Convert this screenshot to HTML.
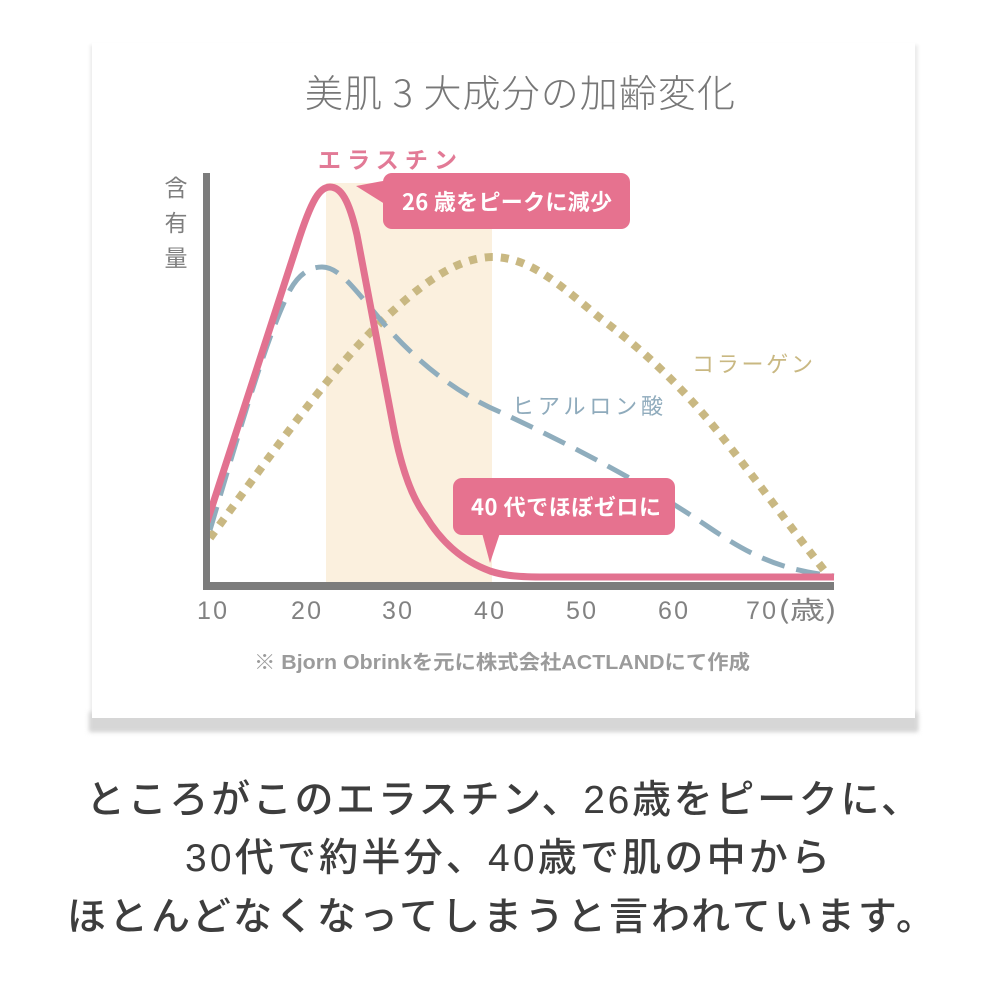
<!DOCTYPE html>
<html><head><meta charset="utf-8">
<style>
html,body{margin:0;padding:0;background:#fff;}
body{width:1000px;height:1000px;overflow:hidden;}
svg{display:block;}
text{font-family:"Liberation Sans","Noto Sans CJK JP",sans-serif;}
.cjk{font-family:"Noto Sans CJK JP","Liberation Sans",sans-serif;}
</style></head>
<body>
<svg width="1000" height="1000" viewBox="0 0 1000 1000" xmlns="http://www.w3.org/2000/svg">
<defs>
<filter id="sh" x="-10%" y="-50%" width="120%" height="200%"><feGaussianBlur stdDeviation="2.5"/></filter>
<filter id="sh2" x="-10%" y="-10%" width="120%" height="120%"><feGaussianBlur stdDeviation="1.5"/></filter>
</defs>
<rect width="1000" height="1000" fill="#fff"/>
<!-- card shadow -->
<rect x="90" y="45" width="828" height="686" fill="#ececec" filter="url(#sh2)"/>
<rect x="89" y="712" width="829" height="20" fill="#d6d6d6" filter="url(#sh)"/>
<rect x="92" y="43" width="823" height="675" fill="#fff"/>

<!-- title -->
<text class="cjk" x="305" y="107" font-size="38" font-weight="300" fill="#777777" textLength="430" lengthAdjust="spacing">美肌 3 大成分の加齢変化</text>

<!-- band -->
<rect x="326" y="183" width="166" height="400" fill="#fbf0de"/>

<!-- collagen dotted -->
<path d="M210,538 C260,470 330,370 380,323 C420,285 455,258 492,257 C530,257 560,285 600,318 C650,355 690,395 730,447 C770,498 800,540 828,575" fill="none" stroke="#c9b882" stroke-width="8" stroke-dasharray="8 8"/>
<!-- hyaluronic dashed -->
<path d="M210,530 C240,430 265,340 290,290 C300,272 312,267 322,267 C340,267 355,290 385,325 C420,365 460,395 500,412 C560,440 640,480 710,528 C750,555 780,570 834,576" fill="none" stroke="#8fadbd" stroke-width="5" stroke-dasharray="24 12"/>
<!-- elastin -->
<path d="M207,522 L297,245 C312,198 320,187 330,187 C341,187 349,200 357,235 L393,425 C400,462 410,495 425,515 C440,540 460,560 490,571 C505,576 520,577 545,577 L834,577" fill="none" stroke="#e27290" stroke-width="7" stroke-linejoin="round"/>

<!-- axes -->
<rect x="203" y="173" width="7" height="417" fill="#7c7c7c"/>
<rect x="203" y="582" width="631" height="8" fill="#7c7c7c"/>

<!-- y label -->
<text class="cjk" x="176" y="196" font-size="23" fill="#7e7e7e" text-anchor="middle">含</text>
<text class="cjk" x="176" y="231" font-size="23" fill="#7e7e7e" text-anchor="middle">有</text>
<text class="cjk" x="176" y="266" font-size="23" fill="#7e7e7e" text-anchor="middle">量</text>

<!-- series labels -->
<text class="cjk" x="318" y="168" font-size="23" font-weight="700" fill="#e27a96" textLength="139" lengthAdjust="spacing">エラスチン</text>
<text class="cjk" x="512" y="414" font-size="22" fill="#8fabbc" textLength="151" lengthAdjust="spacing">ヒアルロン酸</text>
<text class="cjk" x="692" y="372" font-size="22" fill="#c9b882" textLength="121" lengthAdjust="spacing">コラーゲン</text>

<!-- callout 1 -->
<rect x="383" y="173" width="247" height="56" rx="9" fill="#e6728f"/>
<polygon points="356,186 388,180 388,206" fill="#e6728f"/>
<text class="cjk" x="402" y="210" font-size="22" font-weight="700" fill="#fff" textLength="210" lengthAdjust="spacing">26 歳をピークに減少</text>

<!-- callout 2 -->
<rect x="453" y="478" width="222" height="57" rx="9" fill="#e6728f"/>
<polygon points="482,533 500,533 490,563" fill="#e6728f"/>
<text class="cjk" x="471" y="515" font-size="22" font-weight="700" fill="#fff" textLength="190" lengthAdjust="spacing">40 代でほぼゼロに</text>

<!-- x tick labels -->
<g font-size="25" fill="#828282" text-anchor="middle" class="cjk">
<text x="212" y="619" textLength="30">10</text>
<text x="306" y="619" textLength="30">20</text>
<text x="397" y="619" textLength="30">30</text>
<text x="489" y="619" textLength="30">40</text>
<text x="581" y="619" textLength="30">50</text>
<text x="673" y="619" textLength="30">60</text>
<text x="761" y="619" textLength="30">70</text>
</g>
<text class="cjk" x="778" y="619" font-size="25" fill="#828282" textLength="59" lengthAdjust="spacingAndGlyphs">(歳)</text>

<!-- footnote -->
<text x="254" y="669" font-size="20" font-weight="700" fill="#9b9b9b" textLength="496" lengthAdjust="spacingAndGlyphs">※ Bjorn Obrinkを元に株式会社ACTLANDにて作成</text>

<!-- bottom text -->
<g class="cjk" font-size="39" font-weight="500" fill="#3d3d3d">
<text x="86" y="813" textLength="834" lengthAdjust="spacing">ところがこのエラスチン、26歳をピークに、</text>
<text x="185" y="871" textLength="645" lengthAdjust="spacing">30代で約半分、40歳で肌の中から</text>
<text x="67" y="930" textLength="868" lengthAdjust="spacing">ほとんどなくなってしまうと言われています。</text>
</g>
</svg>
</body></html>
